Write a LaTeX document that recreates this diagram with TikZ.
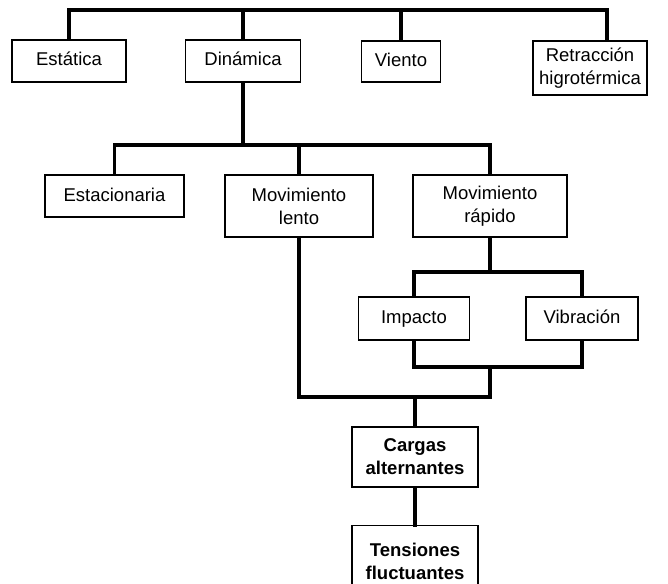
\documentclass[tikz,border=0pt]{standalone}
\usepackage{fontspec}
\setmainfont{Liberation Sans}
\begin{document}
\begin{tikzpicture}[x=1pt,y=-1pt,
  box/.style={draw,line width=1.2pt,align=center,inner sep=0pt,font=\fontsize{18.5}{23}\selectfont},
  oneline/.style={text height=13.5pt,text depth=3.5pt},
  result/.style={box,font=\fontsize{18.5}{23}\selectfont\bfseries},
  link/.style={line width=3.2pt,line cap=rect}]
\useasboundingbox (0,0) rectangle (668,583);

% First level
\node[box,oneline,minimum width=114,minimum height=42] (estatica) at (69,61) {Estática};
\node[box,oneline,minimum width=115,minimum height=42] (dinamica) at (243,61) {Dinámica};
\node[box,oneline,minimum width=79,minimum height=41] (viento) at (401,61.5) {Viento};
\node[box,minimum width=114,minimum height=54] (retraccion) at (590,68) {Retracción\\higrotérmica};

% Second level
\node[box,oneline,minimum width=139,minimum height=42] (estacionaria) at (114.5,196) {Estacionaria};
\node[box,minimum width=148,minimum height=62] (lento) at (299,206) {Movimiento\\lento};
\node[box,minimum width=154,minimum height=62] (rapido) at (490,206) {Movimiento\\rápido};

% Third level
\node[box,oneline,minimum width=111,minimum height=43] (impacto) at (414,318.5) {Impacto};
\node[box,oneline,minimum width=112,minimum height=43] (vibracion) at (582,318.5) {Vibración};

% Result
\node[result,minimum width=126,minimum height=60] (cargas) at (415,457) {Cargas\\alternantes};
\node[result,minimum width=126,minimum height=72,anchor=north] (tensiones) at (415,525) {Tensiones\\fluctuantes};

% Bus coordinates
\coordinate (top) at (607,10);
\coordinate (mid) at (490,145);
\coordinate (split) at (490,272);
\coordinate (join) at (490,367);
\coordinate (merge) at (490,397);

% Connectors
\draw[link] (estatica.north) |- (top) -- ([xshift=17pt]retraccion.north);
\draw[link] (dinamica.north) -- (dinamica.north |- top);
\draw[link] (viento.north) -- (viento.north |- top);
\draw[link] (dinamica.south) -- (dinamica.south |- mid);
\draw[link] (estacionaria.north) |- (mid) -- (rapido.north);
\draw[link] (lento.north) -- (lento.north |- mid);
\draw[link] (rapido.south) -- (split);
\draw[link] (impacto.north) |- (vibracion.north |- split) -- (vibracion.north);
\draw[link] (impacto.south) |- (vibracion.south |- join) -- (vibracion.south);
\draw[link] (join) -- (merge);
\draw[link] (lento.south) |- (merge);
\draw[link] (cargas.north) -- (cargas.north |- merge);
\draw[link] (cargas.south) -- (tensiones.north);
\end{tikzpicture}
\end{document}
